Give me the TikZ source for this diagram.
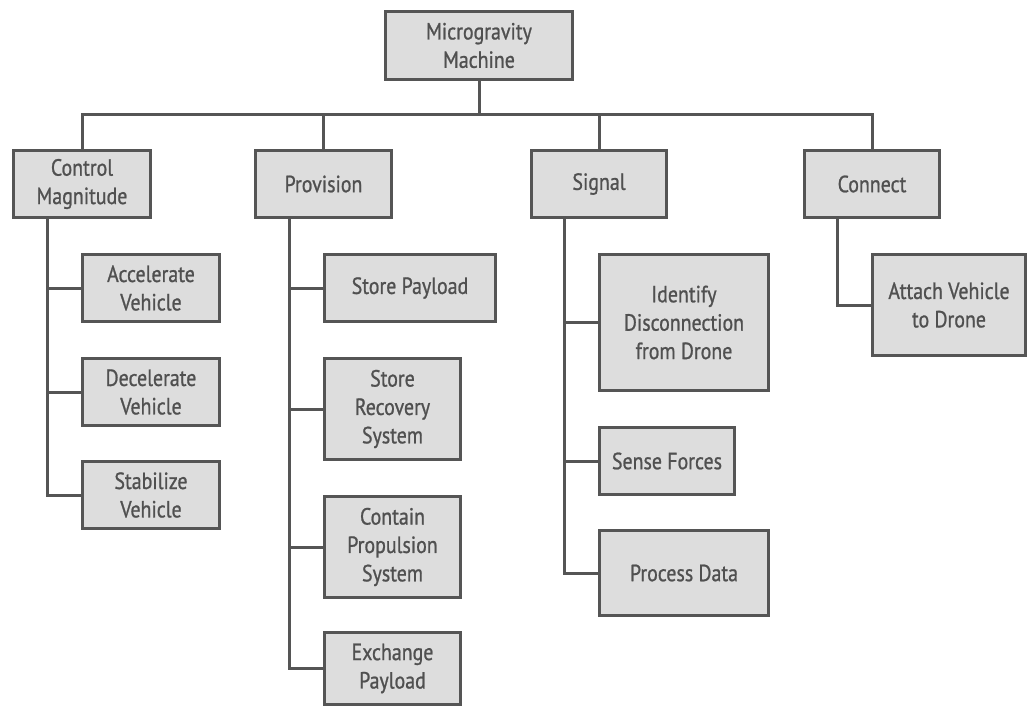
\documentclass[tikz,border=0pt]{standalone}
\usepackage{fontspec}
\setmainfont[FakeStretch=0.85,FakeBold=0.9]{PT Sans}
\definecolor{lc}{HTML}{555555}
\definecolor{fc}{HTML}{DDDDDD}
\definecolor{tc}{HTML}{505050}
\begin{document}
\begin{tikzpicture}[x=1bp,y=-1bp,
  box/.style={draw=lc,fill=fc,line width=3bp,inner sep=0pt,align=center,
    text=tc,font=\fontsize{23.5}{28.5}\selectfont,minimum height=67bp},
  link/.style={draw=lc,line width=3bp}]
\useasboundingbox (0,0) rectangle (1029,719);
\node[box,minimum width=187bp,minimum height=68bp] (top) at (479,45.5) {Microgravity\\Machine};
\node[box,minimum width=137bp] (cm) at (82,184) {Control\\Magnitude};
\node[box,minimum width=136bp] (prov) at (323.5,184) {Provision};
\node[box,minimum width=135bp] (sig) at (599,184) {Signal};
\node[box,minimum width=135bp] (con) at (872,184) {Connect};
% control magnitude children
\node[box,minimum width=137bp] (acc) at (151,288) {Accelerate\\Vehicle};
\node[box,minimum width=137bp] (dec) at (151,392) {Decelerate\\Vehicle};
\node[box,minimum width=137bp] (stab) at (151,495) {Stabilize\\Vehicle};
% provision children
\node[box,minimum width=171bp] (sp) at (410,288) {Store Payload};
\node[box,minimum width=136bp,minimum height=101bp] (srs) at (392.5,409) {Store\\Recovery\\System};
\node[box,minimum width=136bp,minimum height=101bp] (cps) at (392.5,547) {Contain\\Propulsion\\System};
\node[box,minimum width=136bp,minimum height=72bp] (ep) at (392.5,668.5) {Exchange\\Payload};
% signal children
\node[box,minimum width=169bp,minimum height=136bp] (idf) at (684,322.5) {Identify\\Disconnection\\from Drone};
\node[box,minimum width=135bp] (sf) at (667,461) {Sense Forces};
\node[box,minimum width=169bp,minimum height=85bp] (pd) at (684,573) {Process Data};
% connect children
\node[box,minimum width=153bp,minimum height=101bp] (att) at (949,305) {Attach Vehicle\\to Drone};
% bus
\coordinate (bus) at (480,115);
\draw[link] (top.south) -- (top.south |- bus);
\draw[link] (cm.north) -- (cm.north |- bus) -- (con.north |- bus) -- (con.north);
\draw[link] (prov.north) -- (prov.north |- bus);
\draw[link] (sig.north) -- (sig.north |- bus);
% stems
\coordinate (cmS) at (47,219);
\coordinate (prS) at (289,219);
\coordinate (sgS) at (564,219);
\coordinate (cnS) at (837,219);
\draw[link] (cmS) |- (stab.west);
\draw[link] (cmS |- acc.west) -- (acc.west);
\draw[link] (cmS |- dec.west) -- (dec.west);
\draw[link] (prS) |- (ep.west);
\draw[link] (prS |- sp.west) -- (sp.west);
\draw[link] (prS |- srs.west) -- (srs.west);
\draw[link] (prS |- cps.west) -- (cps.west);
\draw[link] (sgS) |- (pd.west);
\draw[link] (sgS |- idf.west) -- (idf.west);
\draw[link] (sgS |- sf.west) -- (sf.west);
\draw[link] (cnS) |- (att.west);
\end{tikzpicture}
\end{document}
